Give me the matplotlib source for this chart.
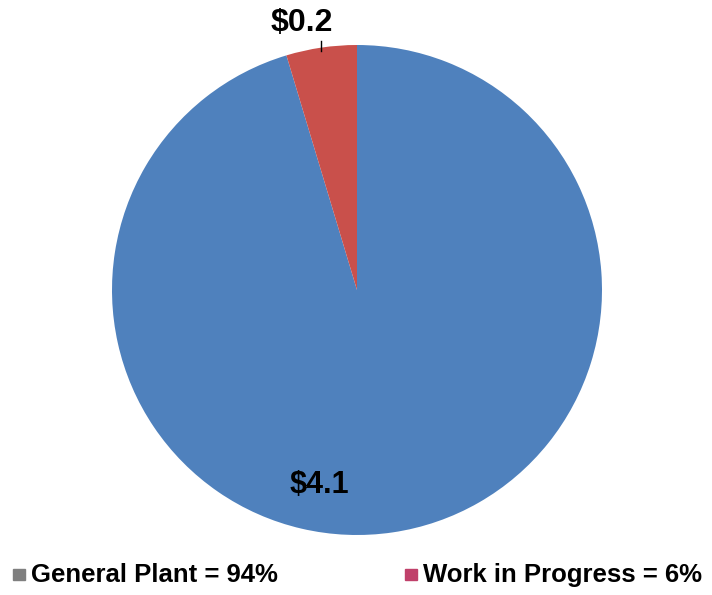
import matplotlib.pyplot as plt
from matplotlib.patches import Rectangle

categories = ['General Plant', 'Work in Progress']
values = [4.1, 0.2]
shares = ['94%', '6%']
value_labels = ['$4.1', '$0.2']
colors = ['#4F81BD', '#C9504B']
legend_marker_colors = ['#7F7F7F', '#C0406A']

plt.rcParams['font.family'] = ['Liberation Sans', 'DejaVu Sans']

fig = plt.figure(figsize=(7.12, 5.95), dpi=100)
W, H = 712, 595
cx, cy, r = 357, 290, 245
ax = fig.add_axes([(cx - r) / W, (H - cy - r) / H, 2 * r / W, 2 * r / H])

wedges, _ = ax.pie(values, colors=colors, startangle=90, counterclock=False,
                   radius=1, wedgeprops=dict(linewidth=0))
ax.set_xlim(-1, 1)
ax.set_ylim(-1, 1)
ax.set_aspect('equal')
ax.axis('off')

# data labels (Excel-style placement)
ax.text(-0.155, -0.795, value_labels[0].replace('$', r'\$'), ha='center', va='center',
        fontsize=22, fontweight='bold', color='black')
ax.text(-0.225, 1.09, value_labels[1].replace('$', r'\$'), ha='center', va='center',
        fontsize=23, fontweight='bold', color='black', clip_on=False)
ax.plot([-0.147, -0.147], [0.975, 1.015], color='black', lw=1, clip_on=False)

# legend along the bottom
leg_y = 1 - 575 / H
marker_x = [13, 405]
for i, cat in enumerate(categories):
    mx = marker_x[i]
    fig.patches.append(Rectangle((mx / W, leg_y - 5 / H), 12 / W, 11 / H,
                                 transform=fig.transFigure, color=legend_marker_colors[i]))
    fig.text((mx + 18) / W, leg_y, f'{cat} = {shares[i]}', ha='left', va='center',
             fontsize=18.5, fontweight='bold', color='black')

fig.savefig('out.png', dpi=100)
